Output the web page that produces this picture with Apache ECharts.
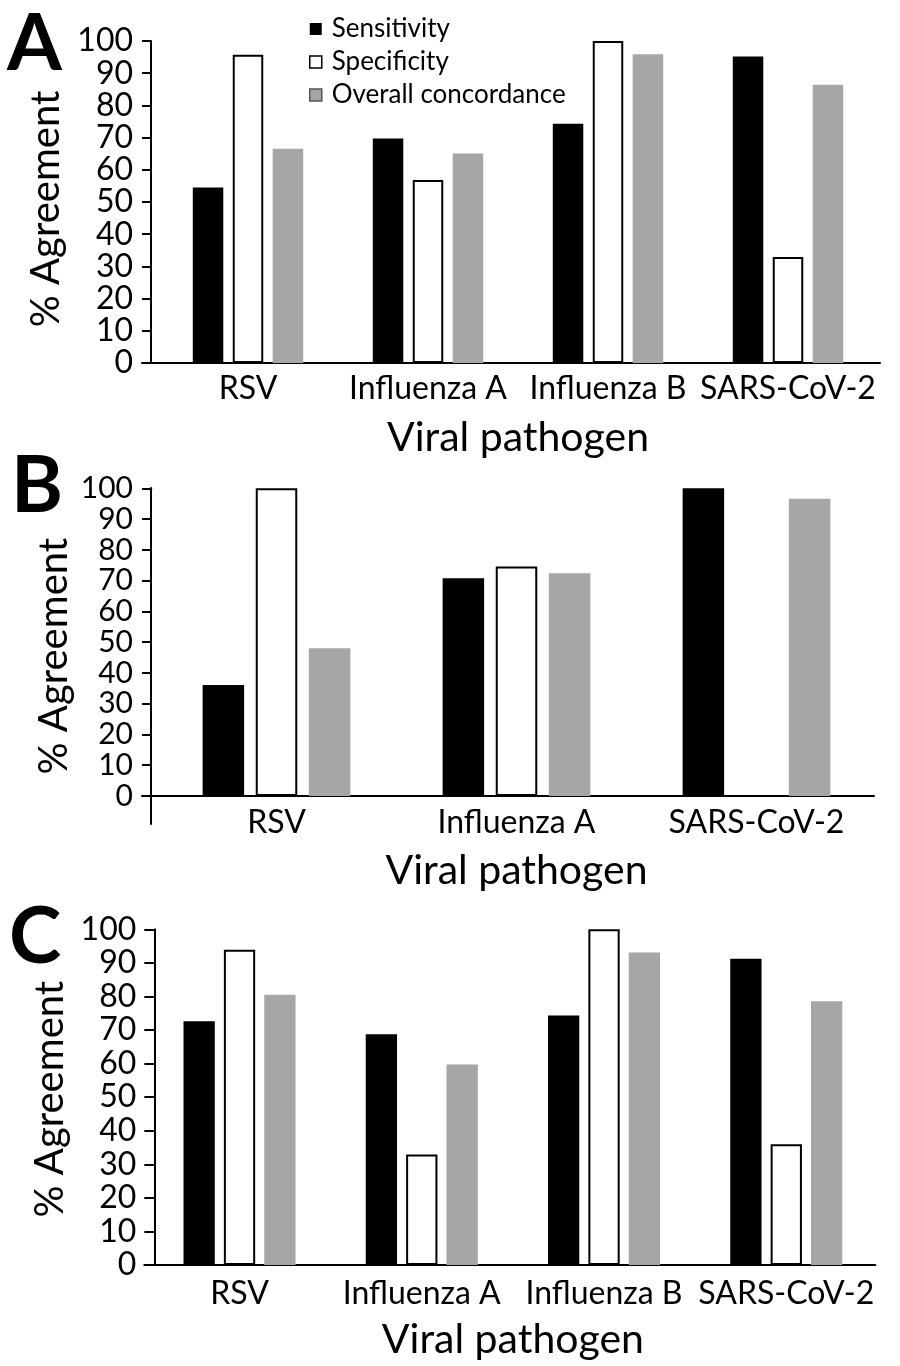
<!DOCTYPE html>
<html>
<head>
<meta charset="utf-8">
<script src="https://cdn.jsdelivr.net/npm/echarts@6/dist/echarts.min.js"></script>
<style>
html,body{margin:0;padding:0;background:#fff;}
#chart{width:900px;height:1366px;}
</style>
</head>
<body>
<div id="chart"></div>
<script>
// ---- data ----
const seriesNames = ['Sensitivity', 'Specificity', 'Overall concordance'];

const categoriesA = ['RSV', 'Influenza A', 'Influenza B', 'SARS-CoV-2'];
const sensitivityA = [54.5, 69.7, 74.3, 95.2];
const specificityA = [95.7, 56.8, 100, 32.9];
const concordanceA = [66.5, 65.1, 95.9, 86.4];

const categoriesB = ['RSV', 'Influenza A', 'SARS-CoV-2'];
const sensitivityB = [36.1, 70.8, 100];
const specificityB = [100, 74.6, null];
const concordanceB = [48.0, 72.4, 96.6];

const categoriesC = ['RSV', 'Influenza A', 'Influenza B', 'SARS-CoV-2'];
const sensitivityC = [72.6, 68.7, 74.3, 91.2];
const specificityC = [93.9, 32.9, 100, 36.0];
const concordanceC = [80.5, 59.7, 93.1, 78.6];

const yMin = 0, yMax = 100, yStep = 10;
const panelLetters = ['A', 'B', 'C'];
const xAxisTitle = 'Viral pathogen';
const yAxisTitle = '% Agreement';

// ---- styles ----
const FONT = 'Lato';
const BLACK = '#000000';
const GRAY = '#a6a6a6';

const panels = [
  { cats: categoriesA, data: [sensitivityA, specificityA, concordanceA],
    main: { left: 158, top: 41, width: 720, height: 322 }, yOffset: 7,
    over: { left: 142, top: 41, width: 738, height: 322 }, overMin: 0, overYLine: false,
    barWidth: 30.5, barGap: '31%', tickLen: 9, labelMargin: 10, namePad: [0, 14, 0, 0], tickFont: 32 },
  { cats: categoriesB, data: [sensitivityB, specificityB, concordanceB],
    main: { left: 156.5, top: 488.3, width: 720, height: 307.7 }, yOffset: 5.5,
    over: { left: 142, top: 488.3, width: 732, height: 335.7 }, overMin: -9.1, overYLine: true,
    barWidth: 41.5, barGap: '28%', tickLen: 9, labelMargin: 11, namePad: [0, 0, 0, 0], tickFont: 30 },
  { cats: categoriesC, data: [sensitivityC, specificityC, concordanceC],
    main: { left: 148.4, top: 929.3, width: 729, height: 335.7 }, yOffset: -5.9,
    over: { left: 144.3, top: 929.3, width: 731, height: 335.7 }, overMin: 0, overYLine: false,
    barWidth: 31.3, barGap: '29%', tickLen: 10, labelMargin: 13, namePad: [0, 4, 0, 0], tickFont: 32 }
];

const grids = [], xAxes = [], yAxes = [], series = [];
const barStyles = [
  { color: BLACK },
  { color: '#ffffff', borderColor: BLACK, borderWidth: 2 },
  { color: GRAY }
];

panels.forEach((p, i) => {
  const gMain = grids.length;
  grids.push(Object.assign({ containLabel: false }, p.main));
  const gOver = grids.length;
  grids.push(Object.assign({ containLabel: false }, p.over));

  const xMain = xAxes.length;
  xAxes.push({
    type: 'category', gridIndex: gMain, data: p.cats,
    axisLine: { show: false }, axisTick: { show: false },
    axisLabel: { color: BLACK, fontFamily: FONT, fontSize: 32, margin: p.labelMargin, interval: 0, hideOverlap: false },
    name: xAxisTitle, nameLocation: 'middle', nameGap: 54,
    nameTextStyle: { color: BLACK, fontFamily: FONT, fontSize: 41 }
  });
  xAxes.push({
    type: 'value', gridIndex: gOver, min: 0, max: 1,
    axisLine: { show: true, onZero: true, lineStyle: { color: BLACK, width: 2 } },
    axisTick: { show: false }, axisLabel: { show: false }, splitLine: { show: false }
  });

  const yMain = yAxes.length;
  const yMainAxis = {
    type: 'value', gridIndex: gMain, min: yMin, max: yMax, interval: yStep,
    offset: p.yOffset,
    axisLine: { show: true, onZero: false, lineStyle: { color: BLACK, width: 2 } },
    axisTick: { show: true, length: p.tickLen, lineStyle: { color: BLACK, width: 2 } },
    axisLabel: { color: BLACK, fontFamily: FONT, fontSize: p.tickFont, lineHeight: 24, margin: 18,
                 showMinLabel: true, showMaxLabel: true, hideOverlap: false },
    splitLine: { show: false }
  };
  const yOverAxis = {
    type: 'value', gridIndex: gOver, min: p.overMin, max: yMax,
    offset: -(p.main.left - p.yOffset - p.over.left),
    axisLine: { show: p.overYLine, onZero: false, lineStyle: { color: BLACK, width: 2 } },
    axisTick: { show: false }, axisLabel: { show: false }, splitLine: { show: false }
  };
  const nameCfg = {
    name: yAxisTitle, nameLocation: 'middle', nameRotate: 90, nameGap: 77,
    nameTextStyle: { color: BLACK, fontFamily: FONT, fontSize: 40, padding: p.namePad }
  };
  if (p.overYLine) Object.assign(yOverAxis, nameCfg); else Object.assign(yMainAxis, nameCfg);
  yAxes.push(yMainAxis);
  yAxes.push(yOverAxis);

  p.data.forEach((vals, k) => {
    series.push({
      name: seriesNames[k], type: 'bar', xAxisIndex: xMain, yAxisIndex: yMain,
      data: vals, barWidth: p.barWidth, barGap: p.barGap,
      itemStyle: barStyles[k], emphasis: { disabled: true }, animation: false
    });
  });
});

const titles = [
  { text: panelLetters[0], left: 7, top: 5 },
  { text: panelLetters[1], left: 11, top: 447 },
  { text: panelLetters[2], left: 9, top: 898 }
].map(t => Object.assign(t, { padding: 0,
  textStyle: { fontFamily: FONT, fontWeight: 'bold', fontSize: 79, color: BLACK } }));

const chart = echarts.init(document.getElementById('chart'), null, { renderer: 'canvas' });
chart.setOption({
  backgroundColor: '#ffffff',
  animation: false,
  title: titles,
  legend: {
    orient: 'vertical', left: 309, top: 16, padding: 0,
    itemWidth: 12, itemHeight: 12, itemGap: 7,
    textStyle: { fontFamily: FONT, fontSize: 26, color: BLACK, lineHeight: 26, padding: [0, 0, 0, 5] },
    data: [
      { name: seriesNames[0], icon: 'rect', itemStyle: { color: BLACK } },
      { name: seriesNames[1], icon: 'rect', itemStyle: { color: '#ffffff', borderColor: BLACK, borderWidth: 1.5 } },
      { name: seriesNames[2], icon: 'rect', itemStyle: { color: GRAY, borderColor: '#555555', borderWidth: 1.5 } }
    ],
    selectedMode: false
  },
  grid: grids, xAxis: xAxes, yAxis: yAxes, series: series
});
</script>
</body>
</html>
